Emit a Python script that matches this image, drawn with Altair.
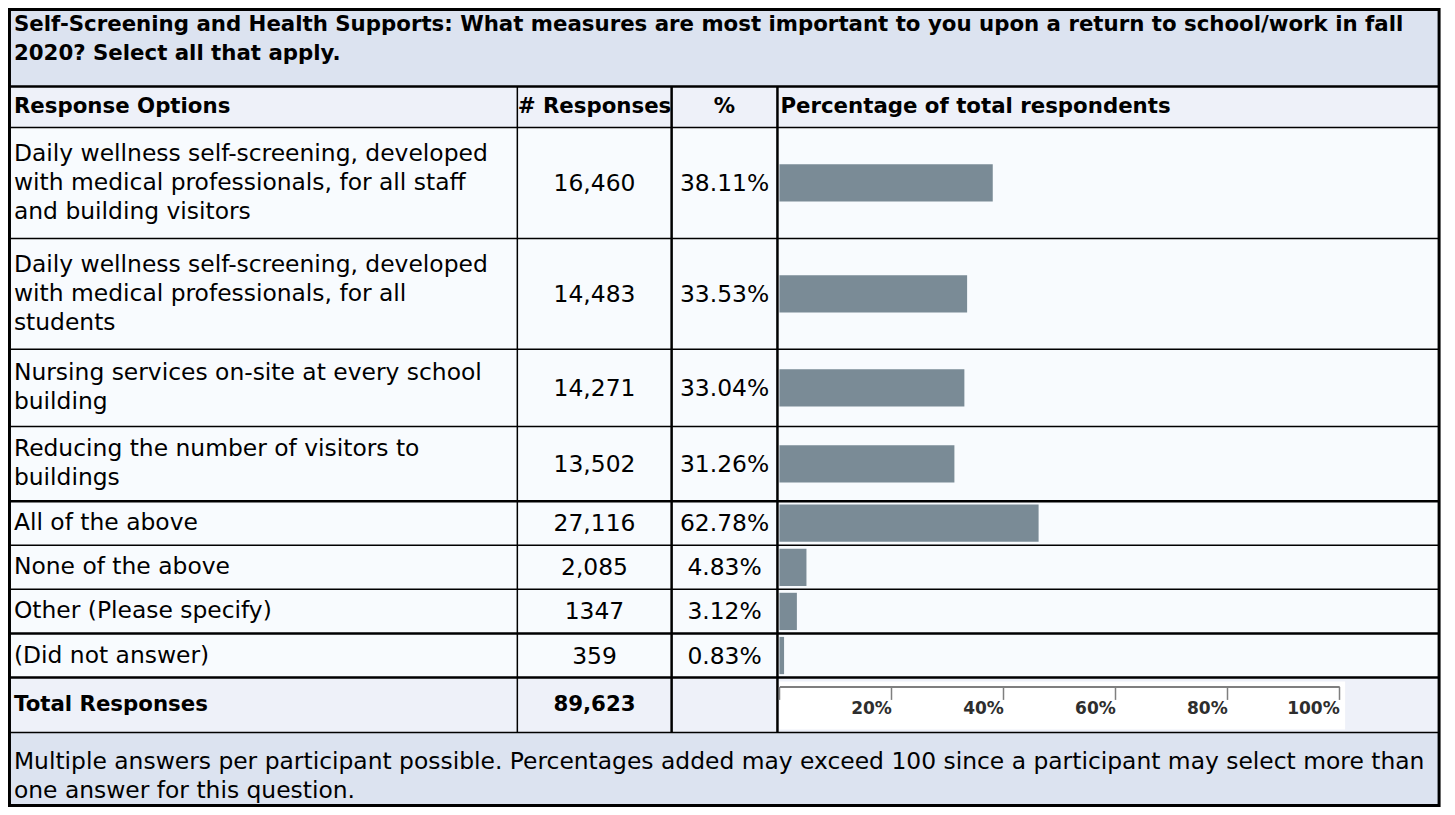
import altair as alt
import pandas as pd

# ---------------- data ----------------
title_lines = [
    "Self-Screening and Health Supports: What measures are most important to you upon a return to school/work in fall",
    "2020? Select all that apply.",
]
header_labels = ["Response Options", "# Responses", "%", "Percentage of total respondents"]
options = [
    ["Daily wellness self-screening, developed", "with medical professionals, for all staff", "and building visitors"],
    ["Daily wellness self-screening, developed", "with medical professionals, for all", "students"],
    ["Nursing services on-site at every school", "building"],
    ["Reducing the number of visitors to", "buildings"],
    ["All of the above"],
    ["None of the above"],
    ["Other (Please specify)"],
    ["(Did not answer)"],
]
responses = ["16,460", "14,483", "14,271", "13,502", "27,116", "2,085", "1347", "359"]
percents = [38.11, 33.53, 33.04, 31.26, 62.78, 4.83, 3.12, 0.83]
# bar lengths as they are drawn in the picture (read against its axis)
bar_lengths = [38.11, 33.53, 33.04, 31.26, 46.3, 4.83, 3.12, 0.83]
total_label = "Total Responses"
total_value = "89,623"
axis_ticks = [0, 20, 40, 60, 80, 100]
footer_lines = [
    "Multiple answers per participant possible. Percentages added may exceed 100 since a participant may select more than",
    "one answer for this question.",
]

# ---------------- layout (reference pixel space) ----------------
REF_W, REF_H = 1455, 815
W, H = 1439, 799
SX, SY = W / REF_W, H / REF_H
RIGHT = 1447
TITLE_BOTTOM = 80
HEADER_BOTTOM = 122
row_bottoms = [235, 348, 427, 503, 548, 593, 638, 683]
TOTAL_BOTTOM = 739
col_lines = [515, 671, 778]
thick_rows = {503, 638, 683}
LINE_H = 29.5
X_TEXT = 6
X_NUM = 593
X_PCT = 724.5
X_BARHEAD = 781
BAR_HALF = 19
BAR_RANGE = [780 * SX, 1346 * SX]
AXIS_Y = 692
FOOTER_Y = 769

FONT = "DejaVu Sans"
FS = 23.4
FS_BOLD = 21.3

xsc = alt.Scale(domain=[0, REF_W], range=[0, W], nice=False, zero=False)
ysc = alt.Scale(domain=[0, REF_H], range=[0, H], nice=False, zero=False)

# backgrounds
bg = pd.DataFrame([
    dict(x1=0, x2=RIGHT, y1=0, y2=TITLE_BOTTOM, fill="#DCE3F0"),
    dict(x1=0, x2=RIGHT, y1=TITLE_BOTTOM, y2=HEADER_BOTTOM, fill="#EEF1F9"),
    dict(x1=0, x2=RIGHT, y1=HEADER_BOTTOM, y2=row_bottoms[-1], fill="#F8FBFE"),
    dict(x1=0, x2=RIGHT, y1=row_bottoms[-1], y2=TOTAL_BOTTOM, fill="#EEF1F9"),
    dict(x1=0, x2=RIGHT, y1=TOTAL_BOTTOM, y2=REF_H, fill="#DCE3F0"),
    dict(x1=780, x2=1352, y1=687, y2=736, fill="#FFFFFF"),
])

# grid lines
rules = []
rules.append(dict(x1=0, x2=RIGHT, y1=TITLE_BOTTOM, y2=TITLE_BOTTOM, w=2.5))
rules.append(dict(x1=0, x2=RIGHT, y1=HEADER_BOTTOM, y2=HEADER_BOTTOM, w=1.5))
for yb in row_bottoms:
    rules.append(dict(x1=0, x2=RIGHT, y1=yb, y2=yb, w=2.5 if yb in thick_rows else 1.5))
rules.append(dict(x1=0, x2=RIGHT, y1=TOTAL_BOTTOM, y2=TOTAL_BOTTOM, w=1.5))
for i, xc in enumerate(col_lines):
    rules.append(dict(x1=xc, x2=xc, y1=TITLE_BOTTOM, y2=TOTAL_BOTTOM, w=1.5 if i == 0 else 2.5))
# outer border
rules.append(dict(x1=1.5, x2=1.5, y1=0, y2=REF_H, w=3))
rules.append(dict(x1=RIGHT, x2=RIGHT, y1=0, y2=REF_H, w=3))
rules.append(dict(x1=0, x2=RIGHT, y1=1.5, y2=1.5, w=3))
rules.append(dict(x1=0, x2=RIGHT, y1=REF_H - 1.5, y2=REF_H - 1.5, w=3))
rules_df = pd.DataFrame(rules)

# row centres
tops = [HEADER_BOTTOM] + row_bottoms[:-1]
centres = [(t + b) / 2 for t, b in zip(tops, row_bottoms)]
total_c = (row_bottoms[-1] + TOTAL_BOTTOM) / 2
head_c = (TITLE_BOTTOM + HEADER_BOTTOM) / 2

left_normal, left_bold, center_normal, center_bold = [], [], [], []
for i, t in enumerate(title_lines):
    left_bold.append(dict(x=X_TEXT, y=17 + i * LINE_H, t=t))
left_bold.append(dict(x=X_TEXT, y=head_c, t=header_labels[0]))
center_bold.append(dict(x=X_NUM, y=head_c, t=header_labels[1]))
center_bold.append(dict(x=X_PCT, y=head_c, t=header_labels[2]))
left_bold.append(dict(x=X_BARHEAD, y=head_c, t=header_labels[3]))
for c, lines, r, p in zip(centres, options, responses, percents):
    n = len(lines)
    for j, ln in enumerate(lines):
        left_normal.append(dict(x=X_TEXT, y=c + (j - (n - 1) / 2) * LINE_H, t=ln))
    center_normal.append(dict(x=X_NUM, y=c + 1, t=r))
    center_normal.append(dict(x=X_PCT, y=c + 1, t=f"{p:.2f}%"))
left_bold.append(dict(x=X_TEXT, y=total_c, t=total_label))
center_bold.append(dict(x=X_NUM, y=total_c, t=total_value))
for i, t in enumerate(footer_lines):
    left_normal.append(dict(x=X_TEXT, y=FOOTER_Y + i * LINE_H, t=t))

bar_df = pd.DataFrame(dict(
    option=[" ".join(o) for o in options],
    base=[0] * len(bar_lengths),
    length=bar_lengths,
    y1=[c - BAR_HALF for c in centres],
    y2=[c + BAR_HALF for c in centres],
))

# ---------------- layers ----------------
bg_layer = alt.Chart(bg).mark_rect().encode(
    x=alt.X("x1:Q", scale=xsc, axis=None), x2="x2:Q",
    y=alt.Y("y1:Q", scale=ysc, axis=None), y2="y2:Q",
    color=alt.Color("fill:N", scale=None),
)

pct_scale = alt.Scale(domain=[0, 100], range=BAR_RANGE, nice=False)
axis_offset = -(H - AXIS_Y * SY)
bar_layer = alt.Chart(bar_df).mark_rect(color="#7A8B96").encode(
    x=alt.X("base:Q", scale=pct_scale, axis=alt.Axis(
        orient="bottom", offset=axis_offset, values=axis_ticks, title=None,
        labelExpr="datum.value === 0 ? '' : datum.value + '%'",
        labelAlign="right", labelBaseline="top", labelPadding=1,
        labelFont="DejaVu Sans", labelFontWeight="bold", labelFontSize=17,
        labelColor="#2E2E2E", labelFlush=False, labelOverlap=False,
        tickColor="#7F7F7F", tickSize=13, tickWidth=1.5,
        domainColor="#7F7F7F", domainWidth=2, grid=False, zindex=2,
    )),
    x2="length:Q",
    y=alt.Y("y1:Q", scale=ysc, axis=None), y2="y2:Q",
)

rule_layer = alt.Chart(rules_df).mark_rule(color="black").encode(
    x=alt.X("x1:Q", scale=xsc, axis=None), x2="x2:Q",
    y=alt.Y("y1:Q", scale=ysc, axis=None), y2="y2:Q",
    strokeWidth=alt.StrokeWidth("w:Q", scale=None),
)


def text_layer(rows, align, weight, size):
    return alt.Chart(pd.DataFrame(rows)).mark_text(
        align=align, baseline="middle", font=FONT, fontSize=size,
        fontWeight=weight, color="black",
    ).encode(
        x=alt.X("x:Q", scale=xsc, axis=None),
        y=alt.Y("y:Q", scale=ysc, axis=None),
        text="t:N",
    )


chart = alt.layer(
    bg_layer, bar_layer, rule_layer,
    text_layer(left_normal, "left", "normal", FS),
    text_layer(left_bold, "left", "bold", FS_BOLD),
    text_layer(center_normal, "center", "normal", FS),
    text_layer(center_bold, "center", "bold", FS_BOLD),
).resolve_scale(x="independent").properties(
    width=W, height=H, padding=0,
    autosize=alt.AutoSizeParams(type="none"),
).configure_view(strokeWidth=0)

chart.save("out.html", embed_options={"renderer": "svg", "actions": False})
